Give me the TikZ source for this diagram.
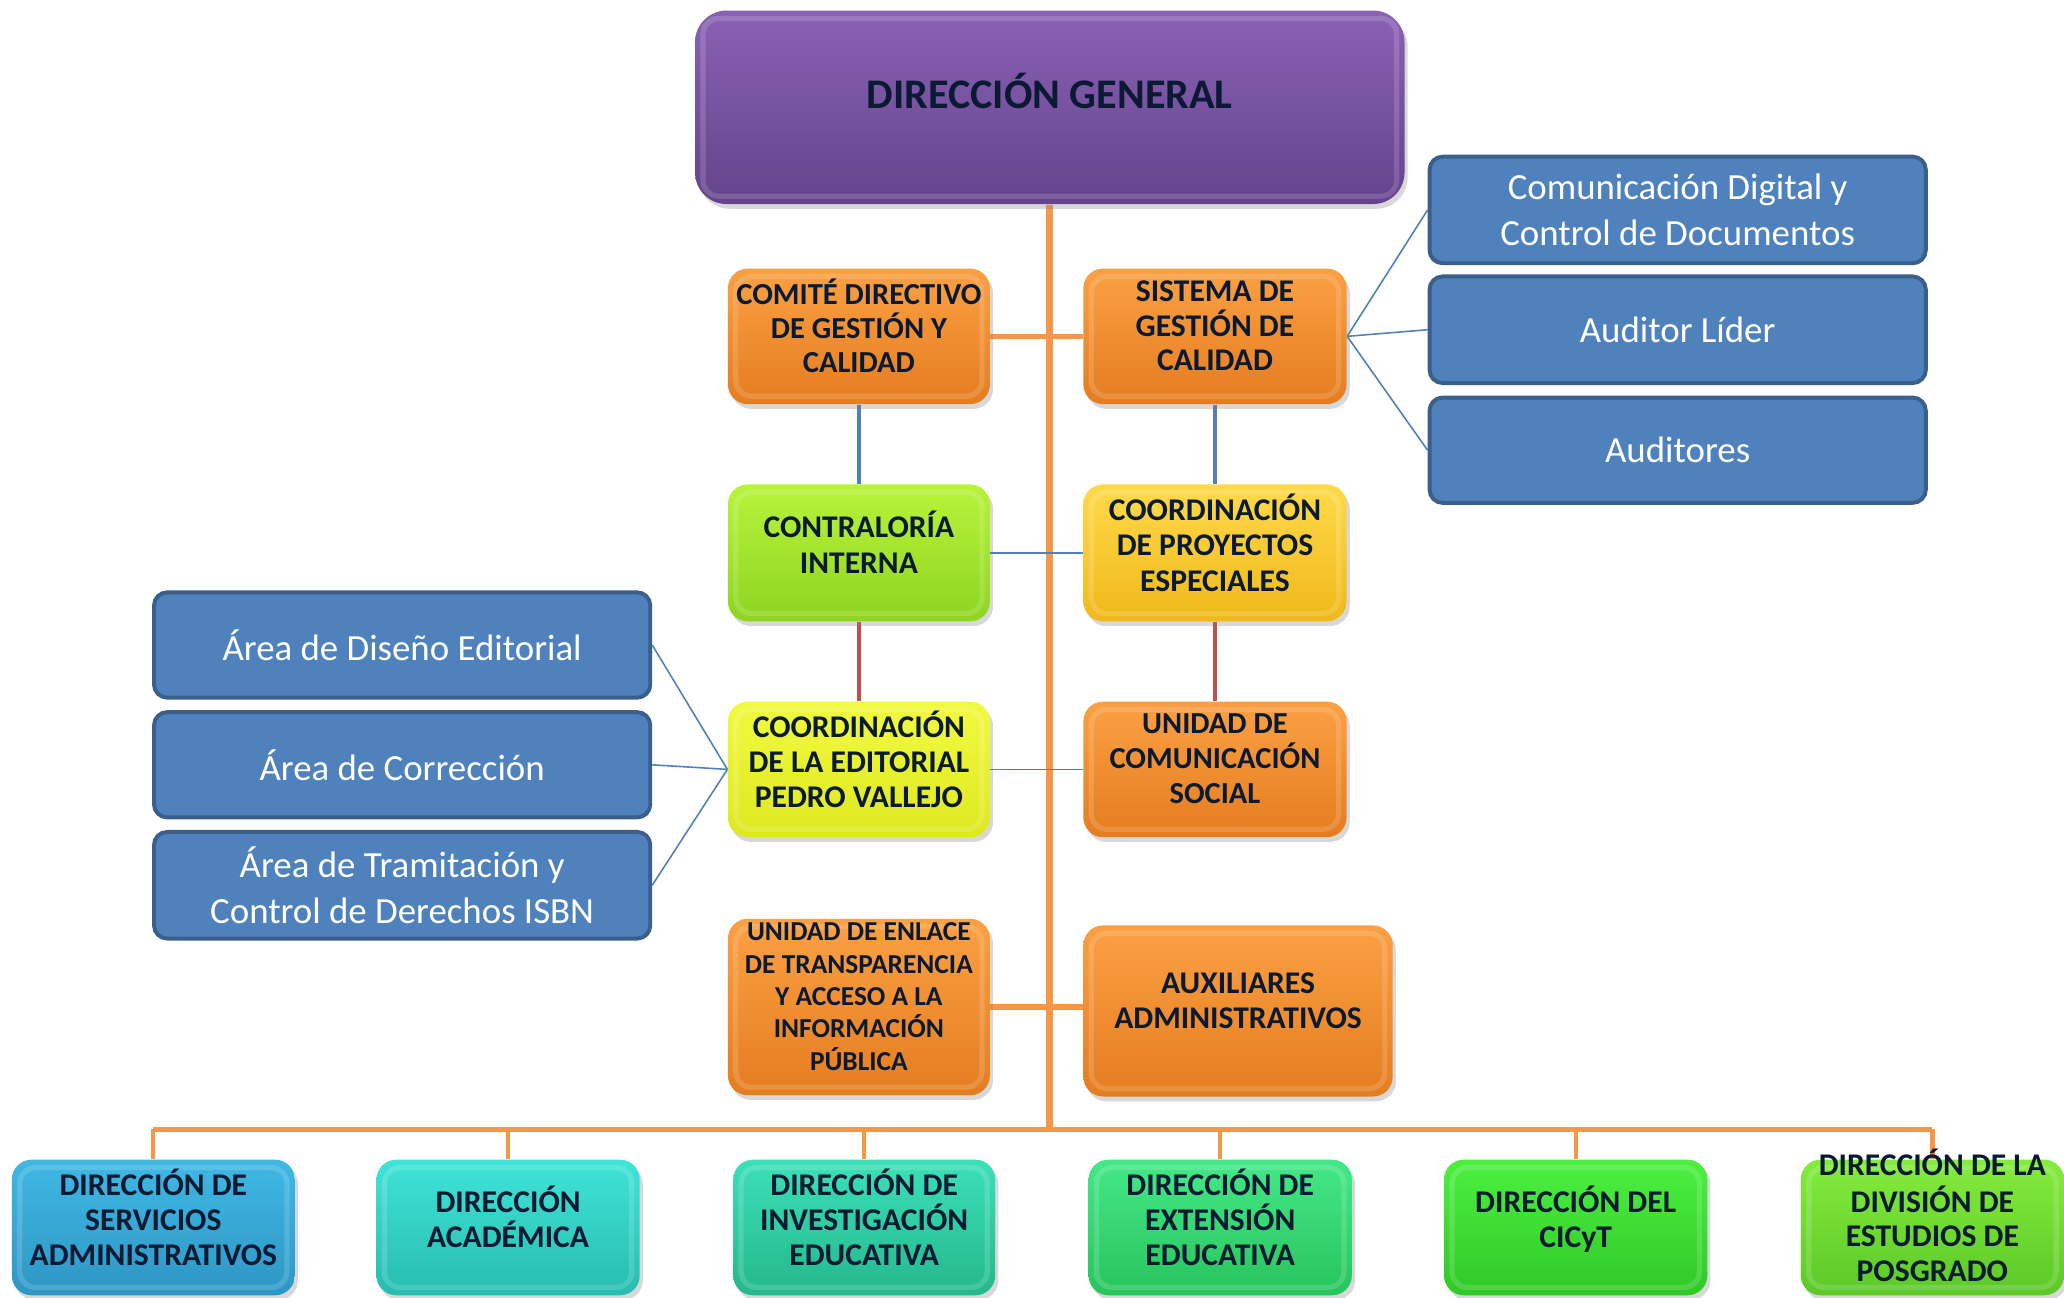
\documentclass[tikz,border=0pt]{standalone}
\usepackage{fontspec}
\setmainfont{Carlito}
\usetikzlibrary{shadows,backgrounds}
\definecolor{txt}{HTML}{0B1A33}
\definecolor{lorange}{HTML}{F79646}
\definecolor{lblue}{HTML}{4F81BD}
\definecolor{lred}{HTML}{C0504D}
\definecolor{bfill}{HTML}{4F81BD}
\definecolor{bdraw}{HTML}{3A5F8B}
\begin{document}
\begin{tikzpicture}[x=0.5pt,y=-0.5pt,
  gloss/.style={rounded corners=7.5pt, inner sep=1pt, align=center, text=txt,
    font=\bfseries\fontsize{12}{13.3}\selectfont, text depth=8pt,
    drop shadow={opacity=0.3, shadow xshift=1.2pt, shadow yshift=-1.8pt},
    path picture={\draw[white, opacity=0.15, line width=2pt, rounded corners=6pt]
      ([shift={(3pt,-3pt)}]path picture bounding box.north west) rectangle
      ([shift={(-3pt,3pt)}]path picture bounding box.south east);}},
  orng/.style={gloss, top color={rgb,255:red,251;green,160;blue,67}, bottom color={rgb,255:red,228;green,125;blue,32}},
  bluebox/.style={rounded corners=5pt, fill=bfill, draw=bdraw, line width=1.5pt,
    text=white, align=center, inner sep=1pt,
    font=\fontsize{14}{17.5}\selectfont, minimum width=188.5pt},
  orline/.style={draw=lorange, line width=2pt},
  thinblue/.style={draw=lblue, line width=0.6pt}
]
\useasboundingbox (0,0) rectangle (1568,986);

% top
\node[gloss, rounded corners=12pt, top color={rgb,255:red,138;green,98;blue,180}, bottom color={rgb,255:red,100;green,67;blue,140},
  minimum width=269.5pt, minimum height=73.5pt, text depth=12.5pt,
  font=\bfseries\fontsize{16}{19}\selectfont] (dg) at (797.5,81.5) {DIRECCIÓN GENERAL};

\node[orng, minimum width=99.5pt, minimum height=51.5pt, font=\bfseries\fontsize{11.6}{13}\selectfont]
  (comite) at (652.5,255.5) {COMITÉ DIRECTIVO\\DE GESTIÓN Y\\CALIDAD};
\node[orng, minimum width=100pt, minimum height=51.5pt, font=\bfseries\fontsize{12}{13}\selectfont]
  (sgc) at (923,255.5) {SISTEMA DE\\GESTIÓN DE\\CALIDAD};
\node[gloss, top color={rgb,255:red,184;green,244;blue,58}, bottom color={rgb,255:red,142;green,212;blue,33},
  minimum width=99.5pt, minimum height=52pt, font=\bfseries\fontsize{12}{13.5}\selectfont]
  (contra) at (652.5,420) {CONTRALORÍA\\INTERNA};
\node[gloss, top color={rgb,255:red,255;green,218;blue,74}, bottom color={rgb,255:red,240;green,184;blue,26},
  minimum width=100pt, minimum height=52pt, font=\bfseries\fontsize{12}{13.5}\selectfont]
  (cpe) at (923,420) {COORDINACIÓN\\DE PROYECTOS\\ESPECIALES};
\node[gloss, top color={rgb,255:red,242;green,250;blue,64}, bottom color={rgb,255:red,221;green,232;blue,32},
  minimum width=99.5pt, minimum height=51.5pt]
  (edit) at (652.5,584.5) {COORDINACIÓN\\DE LA EDITORIAL\\PEDRO VALLEJO};
\node[orng, minimum width=100pt, minimum height=51.5pt, font=\bfseries\fontsize{11.6}{13.3}\selectfont]
  (ucs) at (923,584.5) {UNIDAD DE\\COMUNICACIÓN\\SOCIAL};
\node[orng, minimum width=99.5pt, minimum height=67pt, font=\bfseries\fontsize{10.4}{12.3}\selectfont]
  (enlace) at (652.5,765) {UNIDAD DE ENLACE\\DE TRANSPARENCIA\\Y ACCESO A LA\\INFORMACIÓN\\PÚBLICA};
\node[orng, minimum width=117.5pt, minimum height=65pt, font=\bfseries\fontsize{12}{13.5}\selectfont]
  (aux) at (940.5,768) {AUXILIARES\\ADMINISTRATIVOS};

% blue side boxes (right)
\node[bluebox, minimum height=40.5pt] (cdc) at (1274.5,159.5) {Comunicación Digital y\\Control de Documentos};
\node[bluebox, minimum height=40.5pt] (lider) at (1274.5,250.5) {Auditor Líder};
\node[bluebox, minimum height=40pt] (auds) at (1274.5,342) {Auditores};
% blue side boxes (left)
\node[bluebox, minimum height=40pt] (dis) at (305.5,490) {Área de Diseño Editorial};
\node[bluebox, minimum height=40pt] (cor) at (305.5,581) {Área de Corrección};
\node[bluebox, minimum height=40.5pt] (tra) at (305.5,672.5) {Área de Tramitación y\\Control de Derechos ISBN};

% bottom row
\node[gloss, top color={rgb,255:red,64;green,184;blue,228}, bottom color={rgb,255:red,46;green,150;blue,196},
  minimum width=107.5pt, minimum height=51.5pt] (serv) at (116.5,932.5) {DIRECCIÓN DE\\SERVICIOS\\ADMINISTRATIVOS};
\node[gloss, top color={rgb,255:red,64;green,228;blue,216}, bottom color={rgb,255:red,40;green,188;blue,176},
  minimum width=100pt, minimum height=51.5pt] (acad) at (386,932.5) {DIRECCIÓN\\ACADÉMICA};
\node[gloss, top color={rgb,255:red,60;green,224;blue,184}, bottom color={rgb,255:red,36;green,184;blue,140},
  minimum width=99.5pt, minimum height=51.5pt] (inv) at (656.5,932.5) {DIRECCIÓN DE\\INVESTIGACIÓN\\EDUCATIVA};
\node[gloss, top color={rgb,255:red,68;green,232;blue,136}, bottom color={rgb,255:red,40;green,196;blue,92},
  minimum width=100pt, minimum height=51.5pt] (ext) at (927,932.5) {DIRECCIÓN DE\\EXTENSIÓN\\EDUCATIVA};
\node[gloss, top color={rgb,255:red,76;green,240;blue,64}, bottom color={rgb,255:red,48;green,200;blue,40},
  minimum width=100pt, minimum height=51.5pt] (cicyt) at (1197,932.5) {DIRECCIÓN DEL\\CICyT};
\node[gloss, top color={rgb,255:red,132;green,236;blue,60}, bottom color={rgb,255:red,92;green,200;blue,40},
  minimum width=100pt, minimum height=51.5pt, text depth=0pt, font=\bfseries\fontsize{12}{13.2}\selectfont]
  (posg) at (1468,932.5) {\raisebox{-0.3pt}[0pt][0pt]{\begin{tabular}{@{}c@{}}DIRECCIÓN DE LA\\DIVISIÓN DE\\ESTUDIOS DE\\POSGRADO\end{tabular}}};

\coordinate (bus) at (797.5,858);

\begin{scope}[on background layer]
\fill[white] (0,0) rectangle (1568,986);
\draw[draw=lorange, line width=2.5pt] (dg.south) -- (bus);
\draw[orline] (comite.east) -- (sgc.west);
\draw[orline] (enlace.east) -- (enlace.east -| aux.west);
\draw[orline] (serv.north |- bus) -- (posg.north |- bus);
\foreach \n in {serv,acad,inv,ext,cicyt,posg}
  \draw[draw=lorange, line width=1.6pt] (\n.north |- bus) -- (\n.north);
\draw[draw=lblue, line width=1.5pt] (comite.south) -- (contra.north);
\draw[draw=lblue, line width=1.5pt] (sgc.south) -- (cpe.north);
\draw[draw=lred, line width=1.5pt] (contra.south) -- (edit.north);
\draw[draw=lred, line width=1.5pt] (cpe.south) -- (ucs.north);
\draw[thinblue] (contra.east) -- (cpe.west);
\draw[thinblue] (edit.east) -- (ucs.west);
\draw[thinblue] (sgc.east) -- (cdc.west);
\draw[thinblue] (sgc.east) -- (lider.west);
\draw[thinblue] (sgc.east) -- (auds.west);
\draw[thinblue] (edit.west) -- (dis.east);
\draw[thinblue] (edit.west) -- (cor.east);
\draw[thinblue] (edit.west) -- (tra.east);
\end{scope}
\end{tikzpicture}
\end{document}
